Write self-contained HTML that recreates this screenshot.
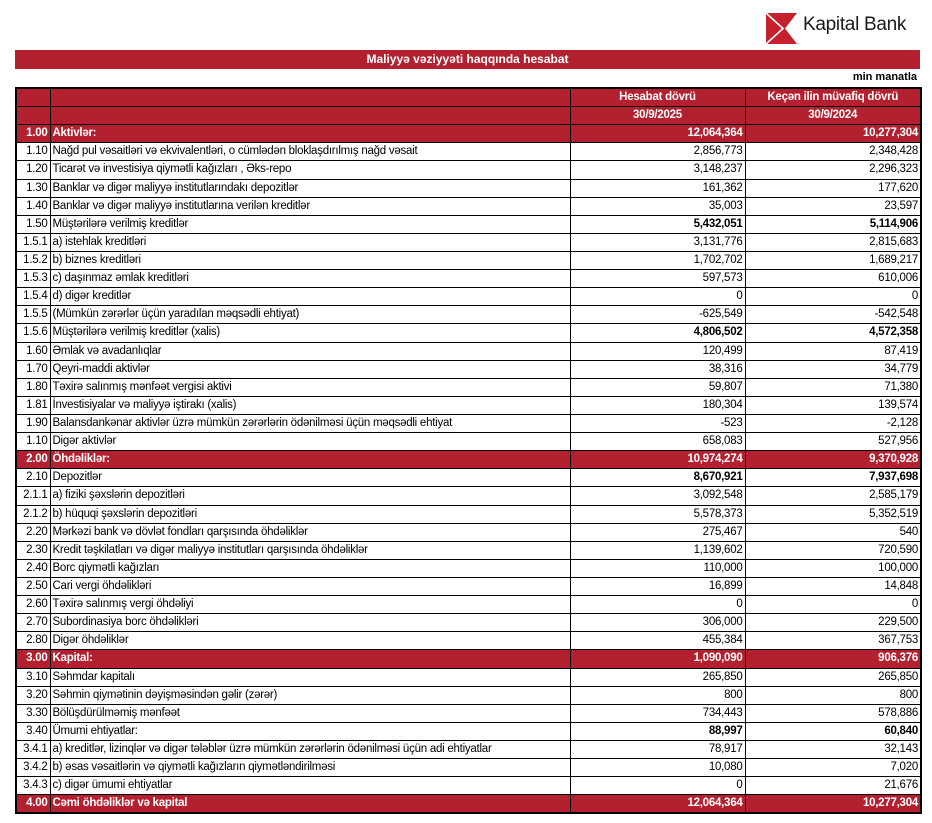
<!DOCTYPE html>
<html><head><meta charset="utf-8">
<style>
body{margin:0;width:932px;height:823px;background:#fff;font-family:"Liberation Sans",Arial,sans-serif;position:relative;overflow:hidden}
.logo{position:absolute;left:766px;top:13px;width:31px;height:31px}
.brand{position:absolute;left:803px;top:14px;font-size:19px;color:#1a1a1a;letter-spacing:-0.3px}
.title{position:absolute;left:15px;top:50px;width:905px;height:19px;background:#b32030;color:#fff;font-weight:bold;font-size:12px;text-align:center;line-height:19px}
.unit{position:absolute;right:15px;top:71px;font-size:11px;font-weight:bold;color:#000}
table{position:absolute;left:15px;top:87px;width:905px;border-collapse:collapse;table-layout:fixed;font-size:11.5px;border:2px solid #000}
td{border:1px solid #000;height:17.12px;padding:0 2px;white-space:nowrap;overflow:hidden;line-height:17px;letter-spacing:-0.25px}
td:nth-child(1){text-align:right}
td:nth-child(3),td:nth-child(4){text-align:right}
tr.h td{background:#b32030;color:#fff;font-weight:bold}
tr.hd td{background:#b32030;color:#fff;font-weight:bold;text-align:center}
tr.b td:nth-child(3),tr.b td:nth-child(4){font-weight:bold}
</style></head><body>
<svg class="logo" viewBox="0 0 31 31"><rect width="31" height="31" fill="#c4202e"/><polyline points="0,0 17,15.5 0,31" fill="none" stroke="#fff" stroke-width="1.6"/><polygon points="31,0 19,15.5 31,31" fill="#fff"/></svg>
<div class="brand">Kapital Bank</div>
<div class="title">Maliyyə vəziyyəti haqqında hesabat</div>
<div class="unit">min manatla</div>
<table>
<colgroup><col style="width:34px"><col style="width:520px"><col style="width:175px"><col style="width:176px"></colgroup>
<tr class="hd"><td></td><td></td><td>Hesabat dövrü</td><td>Keçən ilin müvafiq dövrü</td></tr>
<tr class="hd"><td></td><td></td><td>30/9/2025</td><td>30/9/2024</td></tr>
<tr class="h"><td>1.00</td><td>Aktivlər:</td><td>12,064,364</td><td>10,277,304</td></tr>
<tr><td>1.10</td><td>Nağd pul vəsaitləri və  ekvivalentləri, o cümlədən bloklaşdırılmış nağd vəsait</td><td>2,856,773</td><td>2,348,428</td></tr>
<tr><td>1.20</td><td>Ticarət və investisiya qiymətli kağızları , Əks-repo</td><td>3,148,237</td><td>2,296,323</td></tr>
<tr><td>1.30</td><td>Banklar və digər maliyyə institutlarındakı depozitlər</td><td>161,362</td><td>177,620</td></tr>
<tr><td>1.40</td><td>Banklar və digər maliyyə institutlarına verilən kreditlər</td><td>35,003</td><td>23,597</td></tr>
<tr class="b"><td>1.50</td><td>Müştərilərə verilmiş kreditlər</td><td>5,432,051</td><td>5,114,906</td></tr>
<tr><td>1.5.1</td><td>a) istehlak kreditləri</td><td>3,131,776</td><td>2,815,683</td></tr>
<tr><td>1.5.2</td><td>b) biznes kreditləri</td><td>1,702,702</td><td>1,689,217</td></tr>
<tr><td>1.5.3</td><td>c) daşınmaz əmlak kreditləri</td><td>597,573</td><td>610,006</td></tr>
<tr><td>1.5.4</td><td>d) digər kreditlər</td><td>0</td><td>0</td></tr>
<tr><td>1.5.5</td><td>(Mümkün zərərlər üçün yaradılan məqsədli ehtiyat)</td><td>-625,549</td><td>-542,548</td></tr>
<tr class="b"><td>1.5.6</td><td>Müştərilərə verilmiş kreditlər (xalis)</td><td>4,806,502</td><td>4,572,358</td></tr>
<tr><td>1.60</td><td>Əmlak və avadanlıqlar</td><td>120,499</td><td>87,419</td></tr>
<tr><td>1.70</td><td>Qeyri-maddi aktivlər</td><td>38,316</td><td>34,779</td></tr>
<tr><td>1.80</td><td>Təxirə salınmış mənfəət vergisi aktivi</td><td>59,807</td><td>71,380</td></tr>
<tr><td>1.81</td><td>İnvestisiyalar və maliyyə iştirakı (xalis)</td><td>180,304</td><td>139,574</td></tr>
<tr><td>1.90</td><td>Balansdankənar aktivlər üzrə mümkün zərərlərin ödənilməsi üçün məqsədli ehtiyat</td><td>-523</td><td>-2,128</td></tr>
<tr><td>1.10</td><td>Digər aktivlər</td><td>658,083</td><td>527,956</td></tr>
<tr class="h"><td>2.00</td><td>Öhdəliklər:</td><td>10,974,274</td><td>9,370,928</td></tr>
<tr class="b"><td>2.10</td><td>Depozitlər</td><td>8,670,921</td><td>7,937,698</td></tr>
<tr><td>2.1.1</td><td>a) fiziki şəxslərin depozitləri</td><td>3,092,548</td><td>2,585,179</td></tr>
<tr><td>2.1.2</td><td>b) hüquqi şəxslərin depozitləri</td><td>5,578,373</td><td>5,352,519</td></tr>
<tr><td>2.20</td><td>Mərkəzi bank və dövlət fondları qarşısında öhdəliklər</td><td>275,467</td><td>540</td></tr>
<tr><td>2.30</td><td>Kredit təşkilatları və digər maliyyə institutları qarşısında öhdəliklər</td><td>1,139,602</td><td>720,590</td></tr>
<tr><td>2.40</td><td>Borc qiymətli kağızları</td><td>110,000</td><td>100,000</td></tr>
<tr><td>2.50</td><td>Cari vergi öhdəlikləri</td><td>16,899</td><td>14,848</td></tr>
<tr><td>2.60</td><td>Təxirə salınmış vergi öhdəliyi</td><td>0</td><td>0</td></tr>
<tr><td>2.70</td><td>Subordinasiya borc öhdəlikləri</td><td>306,000</td><td>229,500</td></tr>
<tr><td>2.80</td><td>Digər öhdəliklər</td><td>455,384</td><td>367,753</td></tr>
<tr class="h"><td>3.00</td><td>Kapital:</td><td>1,090,090</td><td>906,376</td></tr>
<tr><td>3.10</td><td>Səhmdar kapitalı</td><td>265,850</td><td>265,850</td></tr>
<tr><td>3.20</td><td>Səhmin qiymətinin dəyişməsindən gəlir (zərər)</td><td>800</td><td>800</td></tr>
<tr><td>3.30</td><td>Bölüşdürülməmiş mənfəət</td><td>734,443</td><td>578,886</td></tr>
<tr class="b"><td>3.40</td><td>Ümumi ehtiyatlar:</td><td>88,997</td><td>60,840</td></tr>
<tr><td>3.4.1</td><td>a) kreditlər, lizinqlər və digər tələblər üzrə mümkün zərərlərin ödənilməsi üçün adi ehtiyatlar</td><td>78,917</td><td>32,143</td></tr>
<tr><td>3.4.2</td><td>b) əsas vəsaitlərin və qiymətli kağızların qiymətləndirilməsi</td><td>10,080</td><td>7,020</td></tr>
<tr><td>3.4.3</td><td>c) digər ümumi ehtiyatlar</td><td>0</td><td>21,676</td></tr>
<tr class="h"><td>4.00</td><td>Cəmi öhdəliklər və kapital</td><td>12,064,364</td><td>10,277,304</td></tr>
</table>
</body></html>
